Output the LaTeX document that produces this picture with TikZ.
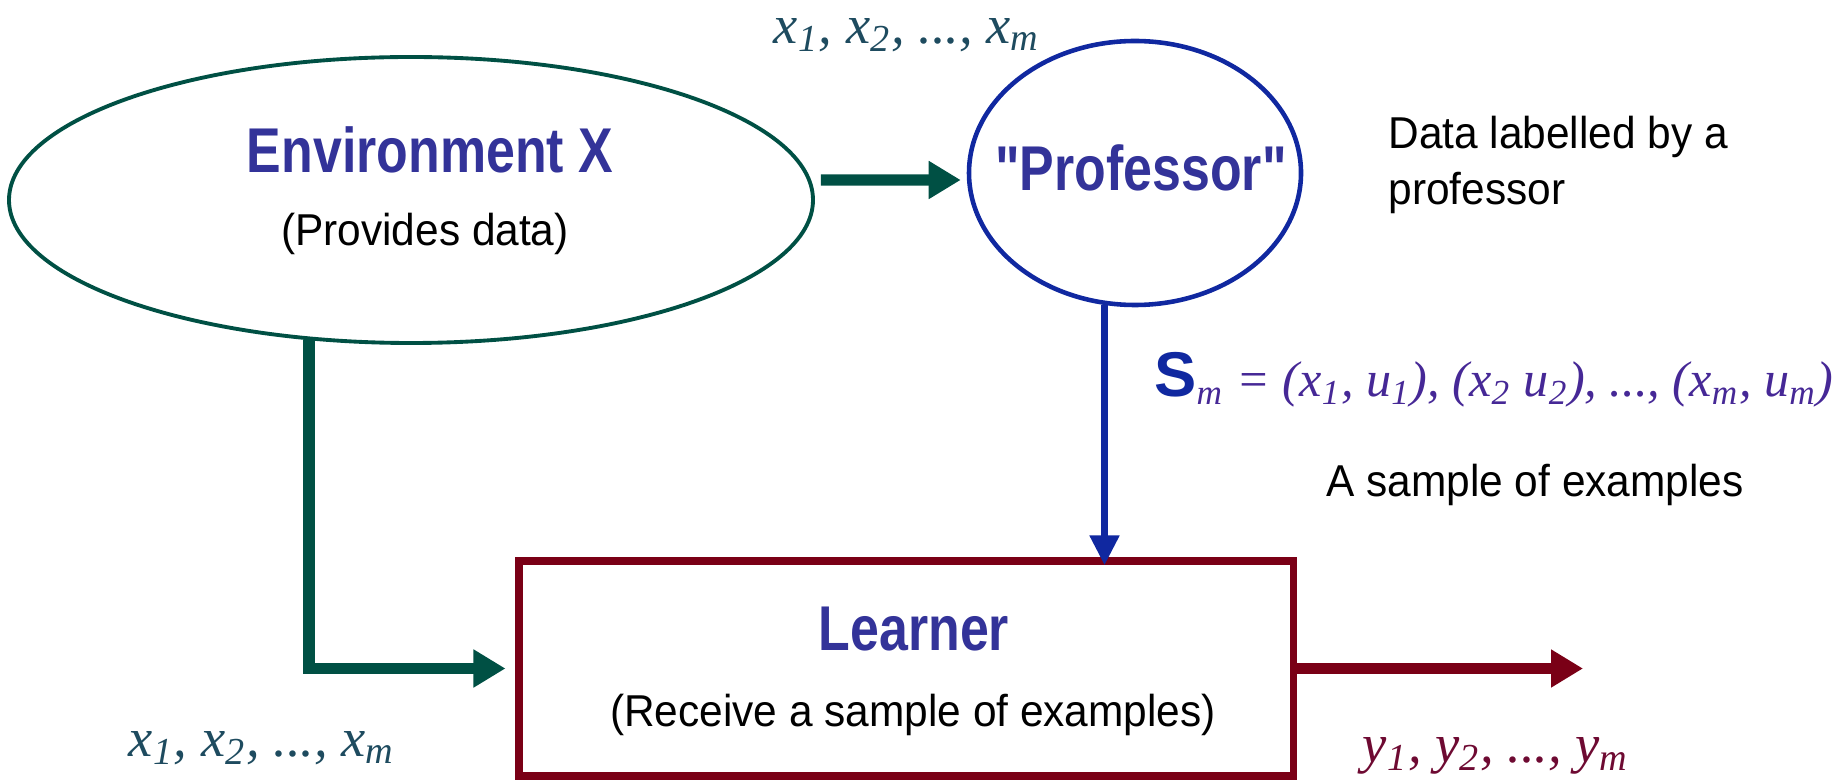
\documentclass[tikz,border=0pt]{standalone}
\usepackage{fontspec}
\setmainfont{Liberation Sans}
\newfontfamily\titlefont[FakeStretch=0.82]{Liberation Sans}
\newfontfamily\bodyfont[FakeStretch=0.95]{Liberation Sans}
\newfontfamily\seqfont{Liberation Serif}
\usetikzlibrary{arrows.meta,shapes.geometric}

\definecolor{envteal}{RGB}{0,80,68}
\definecolor{profblue}{RGB}{16,40,160}
\definecolor{learnred}{RGB}{122,0,22}
\definecolor{titleblue}{RGB}{51,51,153}
\definecolor{seqteal}{RGB}{30,75,95}
\definecolor{seqblue}{RGB}{70,40,150}
\definecolor{seqred}{RGB}{110,10,50}

\newcommand{\lsub}[1]{\textsubscript{#1}}

\begin{document}
\begin{tikzpicture}[
    title/.style={font=\titlefont\bfseries\fontsize{18}{20}\selectfont, text=titleblue},
    sub/.style={font=\bodyfont\fontsize{12.7}{15.9}\selectfont},
    seq/.style={font=\seqfont\itshape\fontsize{15.5}{17}\selectfont},
    head/.style={-{Triangle[length=0.32cm,width=0.36cm]}},
    thinhead/.style={-{Triangle[length=0.3cm,width=0.28cm]}}
]
\useasboundingbox (0,0) rectangle (18.42,7.82);

% --- Environment X ---
\node[draw=envteal, line width=1.1pt, ellipse, minimum width=8.04cm, minimum height=2.86cm] (env) at (4.11,5.82) {};
\node[title] (envtitle) at (4.30,6.32) {Environment X};
\node[sub] (envsub) at (4.25,5.48) {(Provides data)};

% --- Professor ---
\node[draw=profblue, line width=1.3pt, ellipse, minimum width=3.32cm, minimum height=2.64cm] (prof) at (11.35,6.09) {};
\node[title] (proftitle) at (11.41,6.14) {"Professor"};
\node[sub, align=left, anchor=west] (profnote) at (13.76,6.17) {Data labelled by a\\professor};

% --- Learner ---
\node[draw=learnred, line width=2pt, minimum width=7.74cm, minimum height=2.15cm] (learner) at (9.06,1.135) {};
\node[title] (learntitle) at (9.14,1.53) {Learner};
\node[sub] (learnsub) at (9.13,0.67) {(Receive a sample of examples)};

% --- Connectors ---
\draw[envteal, line width=3.2pt, head] ([shift={(0.06,0.2)}]env.east) -- ([shift={(-0.06,-0.07)}]prof.west);
\draw[envteal, line width=3.2pt, head, shorten >=0.1cm] (env.234) |- (learner.west);
\draw[profblue, line width=2.2pt, thinhead, shorten >=-0.08cm] (prof.257) -- (prof.257 |- learner.north);
\coordinate (out) at (15.83,1.135);
\draw[learnred, line width=3pt, head] (learner.east) -- (out);

% --- Labels ---
\node[seq, text=seqteal] (xtop) at (9.07,7.47) {x\lsub{1}, x\lsub{2}, ..., x\lsub{m}};
\node[seq, text=seqteal] (xbot) at (2.62,0.34) {x\lsub{1}, x\lsub{2}, ..., x\lsub{m}};
\node[seq, text=seqred] (yout) at (14.96,0.26) {y\lsub{1}, y\lsub{2}, ..., y\lsub{m}};
\node[anchor=west, text=seqblue] (sample) at (11.42,4.02) {{\color{profblue}\bfseries\fontsize{18}{20}\selectfont S}{\seqfont\itshape\fontsize{14.3}{16}\selectfont\lsub{m} = (x\lsub{1}, u\lsub{1}), (x\lsub{2} u\lsub{2}), ..., (x\lsub{m}, u\lsub{m})}};
\node[sub] (samplenote) at (15.35,2.97) {A sample of examples};

\end{tikzpicture}
\end{document}
